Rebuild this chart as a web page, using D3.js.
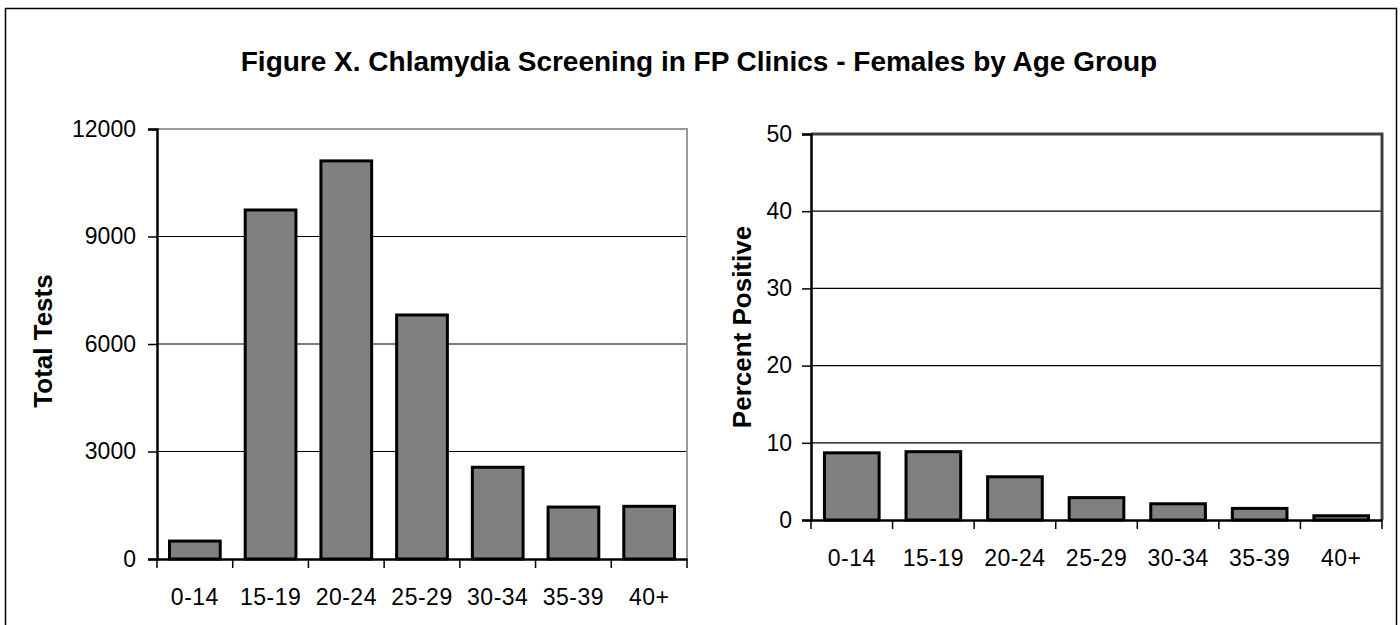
<!DOCTYPE html>
<html>
<head>
<meta charset="utf-8">
<script src="https://cdn.jsdelivr.net/npm/d3@7"></script>
<style>
  body { margin: 0; background: #fff; }
  svg { display: block; }
  text { font-family: "Liberation Sans", Arial, sans-serif; fill: #000; }
</style>
</head>
<body>
<div id="canvas"></div>
<script>
var ageGroups = ["0-14", "15-19", "20-24", "25-29", "30-34", "35-39", "40+"];
var totalTests = [500, 9740, 11110, 6810, 2560, 1450, 1470];
var percentPositive = [8.7, 8.85, 5.6, 2.9, 2.1, 1.5, 0.55];
var testTicks = [0, 3000, 6000, 9000, 12000];
var percentTicks = [0, 10, 20, 30, 40, 50];

var width = 1400, height = 625;

var svg = d3.select("#canvas")
    .append("svg")
    .attr("width", width)
    .attr("height", height);

// outer frame
svg.append("rect")
    .attr("x", 5.5).attr("y", 8.5)
    .attr("width", 1391).attr("height", 660)
    .attr("fill", "none")
    .attr("stroke", "#000")
    .attr("stroke-width", 1.5);

svg.append("text")
    .attr("x", 699)
    .attr("y", 71)
    .attr("text-anchor", "middle")
    .style("font-size", "28px")
    .style("font-weight", "bold")
    .text("Figure X. Chlamydia Screening in FP Clinics - Females by Age Group");

function drawPanel(opts) {
  var x = d3.scaleBand()
      .domain(ageGroups)
      .range([opts.left, opts.right])
      .paddingInner(0.33)
      .paddingOuter(0.165);

  var y = d3.scaleLinear()
      .domain([0, opts.max])
      .range([opts.bottom, opts.top]);

  var g = svg.append("g");

  // gridlines
  g.selectAll(".grid")
      .data(opts.ticks.filter(function(t) { return t > 0 && (opts.topGrid || t < opts.max); }))
      .enter().append("line")
      .attr("x1", opts.left).attr("x2", opts.right)
      .attr("y1", function(d) { return y(d); })
      .attr("y2", function(d) { return y(d); })
      .attr("stroke", "#000")
      .attr("stroke-width", 1.2);

  // plot frame (top + right)
  g.append("path")
      .attr("d", "M" + opts.left + "," + opts.top + "H" + opts.right + "V" + opts.bottom)
      .attr("fill", "none")
      .attr("stroke", opts.frameColor)
      .attr("stroke-width", opts.frameWidth);

  // bars
  g.selectAll(".bar")
      .data(opts.values)
      .enter().append("rect")
      .attr("x", function(d, i) { return x(ageGroups[i]); })
      .attr("y", function(d) { return y(d); })
      .attr("width", x.bandwidth())
      .attr("height", function(d) { return opts.bottom - y(d); })
      .attr("fill", "#808080")
      .attr("stroke", "#000")
      .attr("stroke-width", 3);

  // y axis
  var yAxis = d3.axisLeft(y)
      .tickValues(opts.ticks)
      .tickFormat(d3.format("d"))
      .tickSize(9)
      .tickPadding(opts.yPad);
  var ya = g.append("g")
      .attr("transform", "translate(" + opts.left + ",0)")
      .call(yAxis);
  ya.select(".domain").attr("stroke", "#000").attr("stroke-width", 2.5);
  ya.selectAll(".tick line").attr("stroke", "#000").attr("stroke-width", 1.5);
  ya.selectAll(".tick text")
      .style("font-family", "'Liberation Sans', Arial, sans-serif")
      .style("font-size", "23px")
      .attr("fill", "#000");

  // x axis with ticks at band boundaries
  var xAxis = d3.axisBottom(x).tickSize(0).tickPadding(opts.xPad);
  var xa = g.append("g")
      .attr("transform", "translate(0," + opts.bottom + ")")
      .call(xAxis);
  xa.select(".domain").attr("stroke", "#000").attr("stroke-width", 2.5);
  xa.selectAll(".tick text")
      .style("font-family", "'Liberation Sans', Arial, sans-serif")
      .style("font-size", "23px")
      .style("letter-spacing", "0.5px")
      .attr("fill", "#000");

  var edges = ageGroups.map(function(d) { return x(d) - x.step() * x.paddingInner() / 2; });
  edges.push(opts.right);
  g.selectAll(".xtick")
      .data(edges)
      .enter().append("line")
      .attr("x1", function(d) { return d; }).attr("x2", function(d) { return d; })
      .attr("y1", opts.bottom).attr("y2", opts.bottom + 9)
      .attr("stroke", "#000")
      .attr("stroke-width", 1.5);

  // y title
  g.append("text")
      .attr("transform", "translate(" + opts.titleX + "," + opts.titleY + ") rotate(-90)")
      .attr("text-anchor", "middle")
      .attr("dy", "0.35em")
      .style("font-size", "26px")
      .style("font-weight", "bold")
      .text(opts.title);
}

drawPanel({
  left: 157, right: 687, top: 129, bottom: 559,
  max: 12000, ticks: testTicks, values: totalTests,
  frameColor: "#9a9a9a", frameWidth: 2, topGrid: false,
  yPad: 12, xPad: 30, titleX: 43, titleY: 341, title: "Total Tests"
});

drawPanel({
  left: 811, right: 1382, top: 134, bottom: 520,
  max: 50, ticks: percentTicks, values: percentPositive,
  frameColor: "#404040", frameWidth: 3, topGrid: true,
  yPad: 10, xPad: 30, titleX: 742, titleY: 327, title: "Percent Positive"
});
</script>
</body>
</html>
